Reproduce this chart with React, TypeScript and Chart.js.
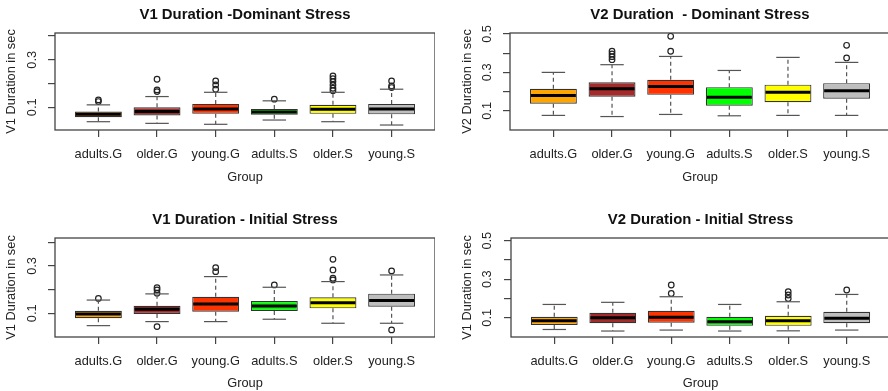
import React, { useEffect, useRef } from 'react';
import { Chart, registerables } from 'chart.js';

Chart.register(...registerables);

// ---------- data ----------
const groups = ['adults.G', 'older.G', 'young.G', 'adults.S', 'older.S', 'young.S'];
const boxColors = ['#FFA500', '#A52A2A', '#FF3300', '#00FF00', '#FFFF00', '#BEBEBE'];

const yTicksV1 = [0.1, 0.2, 0.3, 0.4];
const yLabelsV1 = ['0.1', '', '0.3', ''];
const yTicksV2 = [0.1, 0.2, 0.3, 0.4, 0.5];
const yLabelsV2 = ['0.1', '', '0.3', '', '0.5'];

// V1 Duration - Dominant Stress
const v1DomLow = [0.039, 0.032, 0.028, 0.046, 0.039, 0.025];
const v1DomQ1 = [0.058, 0.065, 0.072, 0.068, 0.072, 0.070];
const v1DomMed = [0.070, 0.082, 0.093, 0.080, 0.092, 0.093];
const v1DomQ3 = [0.082, 0.100, 0.114, 0.093, 0.110, 0.114];
const v1DomHigh = [0.110, 0.145, 0.163, 0.127, 0.163, 0.176];
const v1DomOut = [
  [0.124, 0.131],
  [0.166, 0.173, 0.218],
  [0.176, 0.194, 0.211],
  [0.134],
  [0.170, 0.180, 0.194, 0.208, 0.220, 0.232],
  [0.183, 0.190, 0.211],
];

// V2 Duration - Dominant Stress
const v2DomLow = [0.076, 0.070, 0.081, 0.074, 0.076, 0.076];
const v2DomQ1 = [0.137, 0.173, 0.183, 0.126, 0.145, 0.163];
const v2DomMed = [0.180, 0.215, 0.227, 0.170, 0.197, 0.204];
const v2DomQ3 = [0.215, 0.248, 0.262, 0.223, 0.236, 0.244];
const v2DomHigh = [0.300, 0.340, 0.383, 0.310, 0.378, 0.352];
const v2DomOut = [[], [0.366, 0.382, 0.396, 0.410], [0.410, 0.488], [], [], [0.375, 0.441]];

// V1 Duration - Initial Stress
const v1IniLow = [0.048, 0.065, 0.065, 0.075, 0.058, 0.058];
const v1IniQ1 = [0.079, 0.097, 0.107, 0.110, 0.121, 0.128];
const v1IniMed = [0.097, 0.117, 0.139, 0.131, 0.145, 0.154];
const v1IniQ3 = [0.111, 0.132, 0.170, 0.152, 0.168, 0.183];
const v1IniHigh = [0.156, 0.182, 0.255, 0.210, 0.234, 0.262];
const v1IniOut = [
  [0.163],
  [0.044, 0.185, 0.199, 0.208],
  [0.276, 0.293],
  [0.220],
  [0.241, 0.248, 0.283, 0.328],
  [0.030, 0.279],
];

// V2 Duration - Initial Stress
const v2IniLow = [0.039, 0.031, 0.036, 0.031, 0.032, 0.036];
const v2IniQ1 = [0.062, 0.071, 0.074, 0.058, 0.058, 0.071];
const v2IniMed = [0.084, 0.100, 0.102, 0.079, 0.084, 0.097];
const v2IniQ3 = [0.105, 0.126, 0.136, 0.105, 0.110, 0.131];
const v2IniHigh = [0.169, 0.180, 0.209, 0.169, 0.183, 0.221];
const v2IniOut = [[], [], [0.226, 0.270], [], [0.200, 0.218, 0.235], [0.244]];

// ---------- styling ----------
const FAMILY = '"Liberation Sans", Arial, Helvetica, sans-serif';
const TICK_SIZE = 12.8;
const TICK_LH = TICK_SIZE * 1.2;
const TITLE_SIZE = 14.9;
const TITLE_LH = TITLE_SIZE * 1.2;
const TICK_LEN = 7;
const TEXT_COLOR = '#222';

type PanelCfg = {
  left: number; top: number; w: number; h: number;
  area: { left: number; top: number; bottom: number };
  titleY: number; yTickX: number; yTitleX: number; xLabelY: number; groupY: number;
  title: string; yTitle: string;
  yMin: number; yMax: number; yTicks: number[]; yLabels: string[];
  low: number[]; q1: number[]; med: number[]; q3: number[]; high: number[]; out: number[][];
};

function makeBoxPlugin(p: PanelCfg) {
  return {
    id: 'boxplotExtras',
    afterDatasetsDraw(chart: any) {
      const { ctx, chartArea, scales } = chart;
      const ys = scales.y;
      const meta = chart.getDatasetMeta(0);
      ctx.save();
      p.low.forEach((lo, i) => {
        const bar = meta.data[i];
        const cx = bar.x;
        const half = bar.width / 2;
        const staple = half / 2;
        const seg = (x1: number, y1: number, x2: number, y2: number) => {
          ctx.beginPath();
          ctx.moveTo(x1, y1);
          ctx.lineTo(x2, y2);
          ctx.stroke();
        };
        const yLo = ys.getPixelForValue(lo);
        const yHi = ys.getPixelForValue(p.high[i]);
        const yQ1 = ys.getPixelForValue(p.q1[i]);
        const yQ3 = ys.getPixelForValue(p.q3[i]);
        const yMed = ys.getPixelForValue(p.med[i]);
        ctx.strokeStyle = '#555';
        ctx.lineWidth = 1.2;
        ctx.setLineDash([4, 3]);
        seg(cx, yQ3, cx, yHi);
        seg(cx, yQ1, cx, yLo);
        ctx.setLineDash([]);
        seg(cx - staple, yHi, cx + staple, yHi);
        seg(cx - staple, yLo, cx + staple, yLo);
        ctx.strokeStyle = '#000';
        ctx.lineWidth = 3;
        seg(cx - half + 1, yMed, cx + half - 1, yMed);
      });
      ctx.strokeStyle = '#444';
      ctx.lineWidth = 1.3;
      ctx.strokeRect(chartArea.left, chartArea.top, chartArea.right - chartArea.left, chartArea.bottom - chartArea.top);
      ctx.restore();
    },
  };
}

function makeConfig(p: PanelCfg): any {
  const bars = p.q1.map((q, i) => ({ x: i + 1, y: [q, p.q3[i]] }));
  const outs: { x: number; y: number }[] = [];
  p.out.forEach((arr, i) => arr.forEach((v) => outs.push({ x: i + 1, y: v })));
  const tickFont = { family: FAMILY, size: TICK_SIZE };
  const grid = { offset: false, drawOnChartArea: false, drawTicks: true, tickLength: TICK_LEN, color: '#444', lineWidth: 1.2 };
  return {
    type: 'bar',
    data: {
      datasets: [
        {
          type: 'bar',
          data: bars,
          backgroundColor: boxColors,
          borderColor: '#333',
          borderWidth: 1.2,
          borderSkipped: false,
          barPercentage: 0.8,
          categoryPercentage: 1,
          order: 2,
        },
        {
          type: 'scatter',
          data: outs,
          pointStyle: 'circle',
          pointRadius: 2.8,
          pointBackgroundColor: 'rgba(0,0,0,0)',
          pointBorderColor: '#222',
          pointBorderWidth: 1.2,
          order: 1,
        },
      ],
    },
    options: {
      responsive: false,
      animation: false,
      events: [],
      layout: { padding: 0, autoPadding: false },
      plugins: {
        legend: { display: false },
        tooltip: { enabled: false },
        title: {
          display: true,
          text: p.title,
          fullSize: false,
          color: '#111',
          font: { family: FAMILY, size: TITLE_SIZE, weight: 'bold', lineHeight: 1.2 },
          padding: { top: p.titleY - TITLE_LH / 2, bottom: p.area.top - p.titleY - TITLE_LH / 2 },
        },
      },
      scales: {
        x: {
          type: 'linear',
          offset: false,
          min: 0.26,
          max: 6.74,
          afterBuildTicks: (s: any) => {
            s.ticks = groups.map((_, i) => ({ value: i + 1 }));
          },
          afterFit: (s: any) => {
            s.height = p.h - p.area.bottom;
          },
          grid,
          border: { display: false },
          ticks: {
            autoSkip: false,
            minRotation: 0,
            maxRotation: 0,
            padding: p.xLabelY - p.area.bottom - TICK_LEN - TICK_LH / 2,
            font: tickFont,
            color: TEXT_COLOR,
            callback: (v: number) => groups[Math.round(v) - 1] ?? '',
          },
          title: {
            display: true,
            text: 'Group',
            font: tickFont,
            color: TEXT_COLOR,
            padding: { top: 0, bottom: p.h - p.groupY - TICK_LH / 2 },
          },
        },
        y: {
          type: 'linear',
          min: p.yMin,
          max: p.yMax,
          afterBuildTicks: (s: any) => {
            s.ticks = p.yTicks.map((v) => ({ value: v }));
          },
          afterFit: (s: any) => {
            s.width = p.area.left;
          },
          grid,
          border: { display: false },
          ticks: {
            autoSkip: false,
            minRotation: 90,
            maxRotation: 90,
            crossAlign: 'center',
            padding: p.area.left - TICK_LEN - p.yTickX - 8.9,
            font: tickFont,
            color: TEXT_COLOR,
            callback: (_v: number, i: number) => p.yLabels[i] ?? '',
          },
          title: {
            display: true,
            text: p.yTitle,
            font: tickFont,
            color: TEXT_COLOR,
            padding: { top: p.yTitleX - TICK_LH / 2, bottom: 0 },
          },
        },
      },
    },
    plugins: [makeBoxPlugin(p)],
  };
}

const panels: PanelCfg[] = [
  {
    left: 0, top: 0, w: 435, h: 195,
    area: { left: 55, top: 33, bottom: 130 },
    titleY: 15, yTickX: 32, yTitleX: 11, xLabelY: 154, groupY: 177,
    title: 'V1 Duration -Dominant Stress', yTitle: 'V1 Duration in sec',
    yMin: 0.004, yMax: 0.413, yTicks: yTicksV1, yLabels: yLabelsV1,
    low: v1DomLow, q1: v1DomQ1, med: v1DomMed, q3: v1DomQ3, high: v1DomHigh, out: v1DomOut,
  },
  {
    left: 444, top: 0, w: 446, h: 195,
    area: { left: 66, top: 33, bottom: 130 },
    titleY: 15, yTickX: 43, yTitleX: 23, xLabelY: 154, groupY: 177,
    title: 'V2 Duration  - Dominant Stress', yTitle: 'V2 Duration in sec',
    yMin: 0.0, yMax: 0.505, yTicks: yTicksV2, yLabels: yLabelsV2,
    low: v2DomLow, q1: v2DomQ1, med: v2DomMed, q3: v2DomQ3, high: v2DomHigh, out: v2DomOut,
  },
  {
    left: 0, top: 195, w: 435, h: 196,
    area: { left: 55, top: 43, bottom: 142 },
    titleY: 25, yTickX: 32, yTitleX: 11, xLabelY: 166, groupY: 188,
    title: 'V1 Duration - Initial Stress', yTitle: 'V1 Duration in sec',
    yMin: 0.0, yMax: 0.418, yTicks: yTicksV1, yLabels: yLabelsV1,
    low: v1IniLow, q1: v1IniQ1, med: v1IniMed, q3: v1IniQ3, high: v1IniHigh, out: v1IniOut,
  },
  {
    left: 444, top: 195, w: 446, h: 196,
    area: { left: 67, top: 43, bottom: 142 },
    titleY: 25, yTickX: 43, yTitleX: 23, xLabelY: 166, groupY: 188,
    title: 'V2 Duration - Initial Stress', yTitle: 'V1 Duration in sec',
    yMin: 0.0, yMax: 0.514, yTicks: yTicksV2, yLabels: yLabelsV2,
    low: v2IniLow, q1: v2IniQ1, med: v2IniMed, q3: v2IniQ3, high: v2IniHigh, out: v2IniOut,
  },
];

function Panel({ cfg }: { cfg: PanelCfg }) {
  const ref = useRef<HTMLCanvasElement | null>(null);
  useEffect(() => {
    if (!ref.current) return;
    const chart = new Chart(ref.current, makeConfig(cfg));
    return () => chart.destroy();
  }, [cfg]);
  return (
    <canvas
      ref={ref}
      width={cfg.w}
      height={cfg.h}
      style={{ position: 'absolute', left: cfg.left, top: cfg.top, width: cfg.w, height: cfg.h }}
    />
  );
}

export default function App() {
  return (
    <div
      style={{
        position: 'absolute',
        left: 0,
        top: 0,
        width: 888,
        height: 391,
        overflow: 'hidden',
        background: '#ffffff',
      }}
    >
      {panels.map((p, i) => (
        <Panel key={i} cfg={p} />
      ))}
    </div>
  );
}
